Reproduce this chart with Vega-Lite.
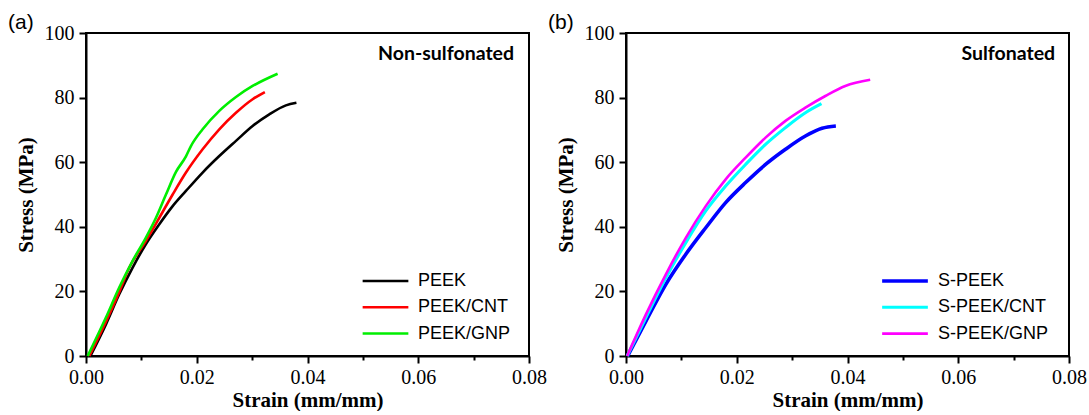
{
  "$schema": "https://vega.github.io/schema/vega-lite/v6.json",
  "padding": {"left": 7, "top": 11, "right": 0, "bottom": 0},
  "spacing": -1,
  "background": "white",
  "datasets": {
    "a": [
      {"series": "PEEK", "strain": 0.0008, "stress": 0},
      {"series": "PEEK", "strain": 0.0036, "stress": 9.8},
      {"series": "PEEK", "strain": 0.006, "stress": 19.1},
      {"series": "PEEK", "strain": 0.0084, "stress": 27.3},
      {"series": "PEEK", "strain": 0.0108, "stress": 34.6},
      {"series": "PEEK", "strain": 0.01324, "stress": 40.8},
      {"series": "PEEK", "strain": 0.01565, "stress": 46.4},
      {"series": "PEEK", "strain": 0.01805, "stress": 51.1},
      {"series": "PEEK", "strain": 0.02106, "stress": 56.8},
      {"series": "PEEK", "strain": 0.02407, "stress": 61.9},
      {"series": "PEEK", "strain": 0.02708, "stress": 66.6},
      {"series": "PEEK", "strain": 0.03009, "stress": 71.2},
      {"series": "PEEK", "strain": 0.0331, "stress": 74.8},
      {"series": "PEEK", "strain": 0.0361, "stress": 77.6},
      {"series": "PEEK", "strain": 0.038, "stress": 78.4},
      {"series": "PEEK/CNT", "strain": 0.0006, "stress": 0},
      {"series": "PEEK/CNT", "strain": 0.0036, "stress": 10.6},
      {"series": "PEEK/CNT", "strain": 0.006, "stress": 19.8},
      {"series": "PEEK/CNT", "strain": 0.0078, "stress": 27.3},
      {"series": "PEEK/CNT", "strain": 0.0108, "stress": 35.6},
      {"series": "PEEK/CNT", "strain": 0.01324, "stress": 42.8},
      {"series": "PEEK/CNT", "strain": 0.01565, "stress": 50.0},
      {"series": "PEEK/CNT", "strain": 0.01805, "stress": 56.8},
      {"series": "PEEK/CNT", "strain": 0.02106, "stress": 64.0},
      {"series": "PEEK/CNT", "strain": 0.02407, "stress": 70.2},
      {"series": "PEEK/CNT", "strain": 0.02708, "stress": 75.3},
      {"series": "PEEK/CNT", "strain": 0.03009, "stress": 79.5},
      {"series": "PEEK/CNT", "strain": 0.0323, "stress": 81.7},
      {"series": "PEEK/GNP", "strain": 0.0003, "stress": 0},
      {"series": "PEEK/GNP", "strain": 0.0036, "stress": 11.9},
      {"series": "PEEK/GNP", "strain": 0.006, "stress": 21.2},
      {"series": "PEEK/GNP", "strain": 0.0084, "stress": 29.4},
      {"series": "PEEK/GNP", "strain": 0.0108, "stress": 36.6},
      {"series": "PEEK/GNP", "strain": 0.01264, "stress": 42.8},
      {"series": "PEEK/GNP", "strain": 0.01444, "stress": 50.0},
      {"series": "PEEK/GNP", "strain": 0.01625, "stress": 57.0},
      {"series": "PEEK/GNP", "strain": 0.01805, "stress": 61.8},
      {"series": "PEEK/GNP", "strain": 0.01895, "stress": 65.0},
      {"series": "PEEK/GNP", "strain": 0.02106, "stress": 70.2},
      {"series": "PEEK/GNP", "strain": 0.02407, "stress": 75.9},
      {"series": "PEEK/GNP", "strain": 0.02708, "stress": 80.2},
      {"series": "PEEK/GNP", "strain": 0.03009, "stress": 83.6},
      {"series": "PEEK/GNP", "strain": 0.0346, "stress": 87.4}
    ],
    "b": [
      {"series": "S-PEEK", "strain": 0.0003, "stress": 0},
      {"series": "S-PEEK", "strain": 0.0036, "stress": 10.8},
      {"series": "S-PEEK", "strain": 0.0072, "stress": 22.2},
      {"series": "S-PEEK", "strain": 0.0108, "stress": 31.5},
      {"series": "S-PEEK", "strain": 0.0144, "stress": 39.7},
      {"series": "S-PEEK", "strain": 0.018, "stress": 47.5},
      {"series": "S-PEEK", "strain": 0.0216, "stress": 53.7},
      {"series": "S-PEEK", "strain": 0.0252, "stress": 59.3},
      {"series": "S-PEEK", "strain": 0.0288, "stress": 64.0},
      {"series": "S-PEEK", "strain": 0.0324, "stress": 68.1},
      {"series": "S-PEEK", "strain": 0.0354, "stress": 70.5},
      {"series": "S-PEEK", "strain": 0.0379, "stress": 71.2},
      {"series": "S-PEEK/CNT", "strain": 0.0002, "stress": 0},
      {"series": "S-PEEK/CNT", "strain": 0.0036, "stress": 11.9},
      {"series": "S-PEEK/CNT", "strain": 0.0072, "stress": 24.2},
      {"series": "S-PEEK/CNT", "strain": 0.0108, "stress": 35.1},
      {"series": "S-PEEK/CNT", "strain": 0.0144, "stress": 44.9},
      {"series": "S-PEEK/CNT", "strain": 0.018, "stress": 52.6},
      {"series": "S-PEEK/CNT", "strain": 0.0216, "stress": 59.3},
      {"series": "S-PEEK/CNT", "strain": 0.0252, "stress": 65.5},
      {"series": "S-PEEK/CNT", "strain": 0.0288, "stress": 70.7},
      {"series": "S-PEEK/CNT", "strain": 0.0324, "stress": 75.3},
      {"series": "S-PEEK/CNT", "strain": 0.0353, "stress": 78.1},
      {"series": "S-PEEK/GNP", "strain": 0.0002, "stress": 0},
      {"series": "S-PEEK/GNP", "strain": 0.0036, "stress": 12.9},
      {"series": "S-PEEK/GNP", "strain": 0.0072, "stress": 25.3},
      {"series": "S-PEEK/GNP", "strain": 0.0108, "stress": 36.6},
      {"series": "S-PEEK/GNP", "strain": 0.0144, "stress": 46.4},
      {"series": "S-PEEK/GNP", "strain": 0.018, "stress": 54.7},
      {"series": "S-PEEK/GNP", "strain": 0.0216, "stress": 61.4},
      {"series": "S-PEEK/GNP", "strain": 0.0252, "stress": 67.6},
      {"series": "S-PEEK/GNP", "strain": 0.0288, "stress": 72.8},
      {"series": "S-PEEK/GNP", "strain": 0.0324, "stress": 76.9},
      {"series": "S-PEEK/GNP", "strain": 0.036, "stress": 80.5},
      {"series": "S-PEEK/GNP", "strain": 0.0396, "stress": 83.6},
      {"series": "S-PEEK/GNP", "strain": 0.0441, "stress": 85.5}
    ]
  },
  "config": {
    "view": {"stroke": "black", "strokeWidth": 2},
    "axis": {
      "grid": false,
      "domainColor": "black",
      "domainWidth": 2,
      "tickColor": "black",
      "tickWidth": 2,
      "labelFont": "Liberation Serif",
      "labelFontSize": 20,
      "labelColor": "black",
      "labelOverlap": false,
      "labelFlush": false,
      "labelBound": false,
      "titleFont": "Liberation Serif",
      "titleFontSize": 21,
      "titleFontWeight": "bold",
      "titleColor": "black"
    },
    "legend": {
      "symbolType": "stroke",
      "symbolSize": 2090,
      "symbolStrokeWidth": 2.5,
      "labelFont": "Liberation Sans",
      "labelFontSize": 18,
      "labelColor": "black",
      "labelOffset": 8,
      "clipHeight": 22,
      "rowPadding": 4.3,
      "padding": 0
    },
    "title": {
      "font": "Liberation Sans",
      "fontSize": 21,
      "fontWeight": "normal",
      "color": "black",
      "anchor": "start",
      "frame": "group",
      "baseline": "alphabetic",
      "dx": -78,
      "offset": -10
    }
  },
  "resolve": {"scale": {"color": "independent", "strokeWidth": "independent"}, "legend": {"color": "independent"}},
  "hconcat": [
    {
      "width": 443,
      "height": 323,
      "title": {"text": "(a)"},
      "layer": [
        {
          "data": {"name": "a"},
          "mark": {"type": "line", "strokeWidth": 2.6, "interpolate": "monotone"},
          "encoding": {
            "x": {
              "field": "strain", "type": "quantitative",
              "scale": {"domain": [0, 0.08], "nice": false, "zero": false},
              "axis": {
                "title": "Strain (mm/mm)",
                "values": [0, 0.01, 0.02, 0.03, 0.04, 0.05, 0.06, 0.07, 0.08],
                "labelExpr": "round(datum.value*100) % 2 === 0 ? format(datum.value, '.2f') : ''",
                "tickSize": {"condition": {"test": "round(datum.value*100) % 2 === 0", "value": 7}, "value": 4},
                "labelPadding": 4,
                "titlePadding": 2
              }
            },
            "y": {
              "field": "stress", "type": "quantitative",
              "scale": {"domain": [0, 100], "nice": false},
              "axis": {
                "title": "Stress (MPa)",
                "values": [0, 10, 20, 30, 40, 50, 60, 70, 80, 90, 100],
                "labelExpr": "datum.value % 20 === 0 ? datum.label : ''",
                "tickSize": {"condition": {"test": "datum.value % 20 === 0", "value": 7}, "value": 4},
                "labelPadding": 5,
                "titlePadding": 8
              }
            },
            "color": {
              "field": "series", "type": "nominal",
              "scale": {"domain": ["PEEK", "PEEK/CNT", "PEEK/GNP"], "range": ["#000000", "#ff0000", "#00ee00"]},
              "legend": {"title": null, "orient": "none", "legendX": 275, "legendY": 237}
            }
          }
        },
        {
          "data": {"values": [{"label": "Non-sulfonated"}]},
          "mark": {"type": "text", "font": "Lato", "fontWeight": "bold", "fontSize": 19.5, "align": "right", "baseline": "middle", "color": "black"},
          "encoding": {
            "x": {"datum": 0.0773, "type": "quantitative"},
            "y": {"datum": 93.5, "type": "quantitative"},
            "text": {"field": "label"}
          }
        }
      ]
    },
    {
      "width": 443,
      "height": 323,
      "title": {"text": "(b)"},
      "layer": [
        {
          "data": {"name": "b"},
          "mark": {"type": "line", "interpolate": "monotone"},
          "encoding": {
            "x": {
              "field": "strain", "type": "quantitative",
              "scale": {"domain": [0, 0.08], "nice": false, "zero": false},
              "axis": {
                "title": "Strain (mm/mm)",
                "values": [0, 0.01, 0.02, 0.03, 0.04, 0.05, 0.06, 0.07, 0.08],
                "labelExpr": "round(datum.value*100) % 2 === 0 ? format(datum.value, '.2f') : ''",
                "tickSize": {"condition": {"test": "round(datum.value*100) % 2 === 0", "value": 7}, "value": 4},
                "labelPadding": 4,
                "titlePadding": 2
              }
            },
            "y": {
              "field": "stress", "type": "quantitative",
              "scale": {"domain": [0, 100], "nice": false},
              "axis": {
                "title": "Stress (MPa)",
                "values": [0, 10, 20, 30, 40, 50, 60, 70, 80, 90, 100],
                "labelExpr": "datum.value % 20 === 0 ? datum.label : ''",
                "tickSize": {"condition": {"test": "datum.value % 20 === 0", "value": 7}, "value": 4},
                "labelPadding": 5,
                "titlePadding": 8
              }
            },
            "color": {
              "field": "series", "type": "nominal",
              "scale": {"domain": ["S-PEEK", "S-PEEK/CNT", "S-PEEK/GNP"], "range": ["#0000ff", "#00ffff", "#ff00ff"]},
              "legend": {"title": null, "orient": "none", "legendX": 254, "legendY": 237}
            },
            "strokeWidth": {
              "field": "series", "type": "nominal",
              "scale": {"domain": ["S-PEEK", "S-PEEK/CNT", "S-PEEK/GNP"], "range": [3.6, 2.6, 2.6]},
              "legend": null
            }
          }
        },
        {
          "data": {"values": [{"label": "Sulfonated"}]},
          "mark": {"type": "text", "font": "Lato", "fontWeight": "bold", "fontSize": 19.5, "align": "right", "baseline": "middle", "color": "black"},
          "encoding": {
            "x": {"datum": 0.0775, "type": "quantitative"},
            "y": {"datum": 93.5, "type": "quantitative"},
            "text": {"field": "label"}
          }
        }
      ]
    }
  ]
}
